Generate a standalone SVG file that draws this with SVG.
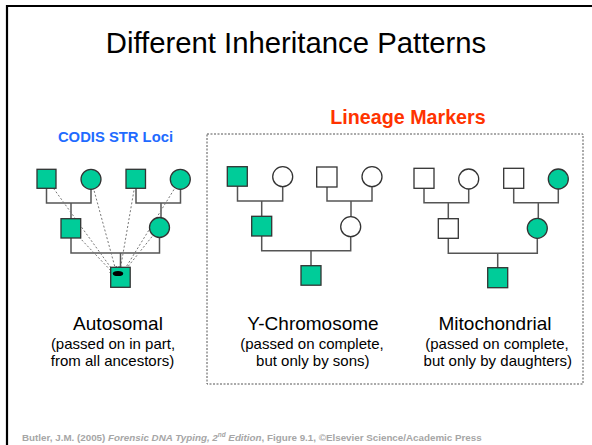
<svg xmlns="http://www.w3.org/2000/svg" width="592" height="445" viewBox="0 0 592 445">
  <style>
    text { font-family: "Liberation Sans", Arial, sans-serif; }
    .on { fill: #00CC99; stroke: #333; stroke-width: 1.3; }
    .off { fill: #ffffff; stroke: #333; stroke-width: 1.3; }
    .link { fill: none; stroke: #555; stroke-width: 1.5; }
    .trace { fill: none; stroke: #777; stroke-width: 1; stroke-dasharray: 2 2; }
    .title { font-size: 29.3px; fill: #000; text-anchor: middle; }
    .label { font-size: 19px; fill: #000; text-anchor: middle; }
    .note { font-size: 15px; fill: #000; text-anchor: middle; }
  </style>
  <defs>
    <marker id="tip" viewBox="0 0 6 6" refX="5" refY="3" markerWidth="6" markerHeight="5" orient="auto" markerUnits="userSpaceOnUse">
      <path d="M0,0 L6,3 L0,6 z" fill="#000"/>
    </marker>
  </defs>

  <rect width="592" height="445" fill="#ffffff"/>

  <!-- slide frame -->
  <path d="M592,6 H7 V445" fill="none" stroke="#000" stroke-width="2.2"/>

  <text class="title" x="296" y="53">Different Inheritance Patterns</text>

  <text x="115.5" y="142" font-size="14.8" font-weight="bold" fill="#1F6BFF" text-anchor="middle">CODIS STR Loci</text>
  <text x="408" y="124" font-size="19.7" font-weight="bold" fill="#FF3300" text-anchor="middle">Lineage Markers</text>

  <!-- lineage marker panel -->
  <rect x="207" y="134" width="376" height="250" fill="none" stroke="#555" stroke-width="1" stroke-dasharray="2 1.5"/>

  <!-- connectors -->
  <g id="connectors">
    <!-- autosomal -->
    <path class="link" d="M46.5,188 V203 H91 V189 M71,203 V219"/>
    <path class="link" d="M136,188 V203 H180.5 V189 M161,203 V218"/>
    <path class="link" d="M71,238 V253 H159.5 V237.5 M120.5,253 V267"/>
    <!-- Y-chromosome -->
    <path class="link" d="M237.5,186 V201 H282.7 V186.7 M261.7,201 V216.3"/>
    <path class="link" d="M327,187 V201 H372 V186.7 M351,201 V216.7"/>
    <path class="link" d="M261.7,236 V250.7 H350.7 V236.7 M311,250.7 V265.7"/>
    <!-- mitochondrial -->
    <path class="link" d="M424,188.3 V202.7 H468.7 V189 M448.3,202.7 V218.7"/>
    <path class="link" d="M513.7,188.3 V202.7 H558.3 V189 M538.3,202.7 V218.3"/>
    <path class="link" d="M448.3,238.3 V253.3 H537.3 V238.3 M497.7,253.3 V267.7"/>
    <!-- autosomal contributions traced to the descendant -->
    <line class="trace" x1="46.5" y1="178.7" x2="114" y2="272" marker-end="url(#tip)"/>
    <line class="trace" x1="91" y1="179.3" x2="116" y2="271" marker-end="url(#tip)"/>
    <line class="trace" x1="70.7" y1="228.3" x2="114" y2="274" marker-end="url(#tip)"/>
    <line class="trace" x1="136" y1="178.7" x2="120" y2="271" marker-end="url(#tip)"/>
    <line class="trace" x1="180.3" y1="179.3" x2="123" y2="272" marker-end="url(#tip)"/>
    <line class="trace" x1="159.5" y1="227.3" x2="122" y2="274" marker-end="url(#tip)"/>
  </g>

  <!-- autosomal pedigree -->
  <g id="auto-gf1"><rect class="on" x="37" y="169.3" width="19" height="19"/></g>
  <g id="auto-gm1"><circle class="on" cx="91" cy="179.3" r="10"/></g>
  <g id="auto-gf2"><rect class="on" x="126" y="169.3" width="19.5" height="19"/></g>
  <g id="auto-gm2"><circle class="on" cx="180.3" cy="179.3" r="10"/></g>
  <g id="auto-father"><rect class="on" x="61" y="218.7" width="19.7" height="19.3"/></g>
  <g id="auto-mother"><circle class="on" cx="159.5" cy="227.5" r="10"/></g>
  <g id="auto-child"><rect class="on" x="110.7" y="267.3" width="19.5" height="20"/>
    <ellipse cx="118" cy="273.5" rx="5.2" ry="2.6" fill="#000"/></g>

  <!-- Y-chromosome pedigree -->
  <g id="y-gf1"><rect class="on" x="227.3" y="166.7" width="20" height="19.5"/></g>
  <g id="y-gm1"><circle class="off" cx="282.7" cy="176.7" r="10"/></g>
  <g id="y-gf2"><rect class="off" x="316.7" y="167" width="20.3" height="20"/></g>
  <g id="y-gm2"><circle class="off" cx="372" cy="176.7" r="10"/></g>
  <g id="y-father"><rect class="on" x="251.7" y="216.3" width="20" height="19.7"/></g>
  <g id="y-mother"><circle class="off" cx="350.7" cy="226.7" r="10"/></g>
  <g id="y-son"><rect class="on" x="301" y="265.7" width="20" height="19.5"/></g>

  <!-- mitochondrial pedigree -->
  <g id="mt-gf1"><rect class="off" x="414" y="168.3" width="20" height="20"/></g>
  <g id="mt-gm1"><circle class="off" cx="468.7" cy="179" r="10"/></g>
  <g id="mt-gf2"><rect class="off" x="503.7" y="168.3" width="20" height="20"/></g>
  <g id="mt-gm2"><circle class="on" cx="558.3" cy="179" r="10"/></g>
  <g id="mt-father"><rect class="off" x="438.3" y="218.7" width="20" height="19.6"/></g>
  <g id="mt-mother"><circle class="on" cx="537.3" cy="228.3" r="10"/></g>
  <g id="mt-child"><rect class="on" x="487.7" y="267.7" width="20" height="20"/></g>

  <!-- captions -->
  <text class="label" x="118" y="330">Autosomal</text>
  <text class="note" x="113" y="349">(passed on in part,</text>
  <text class="note" x="112.5" y="366">from all ancestors)</text>

  <text class="label" x="313" y="330">Y-Chromosome</text>
  <text class="note" x="312" y="349">(passed on complete,</text>
  <text class="note" x="312.8" y="366">but only by sons)</text>

  <text class="label" x="495" y="330">Mitochondrial</text>
  <text class="note" x="497" y="349">(passed on complete,</text>
  <text class="note" x="497.8" y="366">but only by daughters)</text>

  <text x="22" y="441" font-size="9.8" font-weight="bold" fill="#A6A6A6">Butler, J.M. (2005) <tspan font-style="italic">Forensic DNA Typing, 2<tspan font-size="6.4" dy="-3.6">nd</tspan><tspan dy="3.6"> Edition</tspan></tspan>, Figure 9.1, ©Elsevier Science/Academic Press</text>
</svg>
